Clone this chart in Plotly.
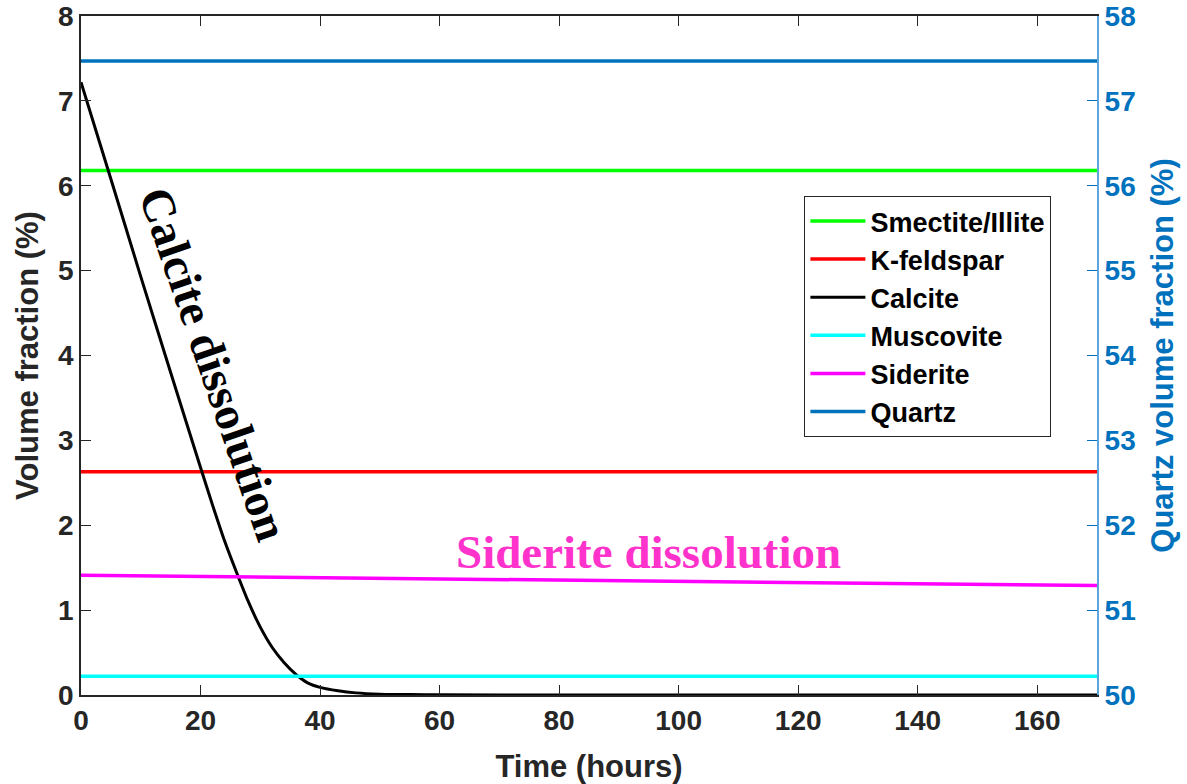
import plotly.graph_objects as go

# Data
time_flat = [0, 170]
smectite = [6.18, 6.18]
kfeldspar = [2.63, 2.63]
muscovite = [0.22, 0.22]
siderite_t = [0, 40, 80, 120, 170]
siderite = [1.41, 1.38, 1.35, 1.32, 1.29]
quartz = [57.47, 57.47]
calcite_t = [0, 5, 10, 15, 20, 22, 24, 26, 28, 30, 32, 34, 36, 38, 40, 43, 46, 50, 55, 60, 80, 120, 170]
calcite = [7.22, 6.08, 4.93, 3.80, 2.68, 2.24, 1.82, 1.45, 1.10, 0.80, 0.56, 0.38, 0.24, 0.14, 0.09,
           0.05, 0.025, 0.01, 0.005, 0.002, 0.0, 0.0, 0.0]
x_ticks = [0, 20, 40, 60, 80, 100, 120, 140, 160]
y_ticks = [0, 1, 2, 3, 4, 5, 6, 7, 8]
y2_ticks = [50, 51, 52, 53, 54, 55, 56, 57, 58]

BLUE = "#0072BD"
AX = "#262626"
FONT = "Liberation Sans, Arial, sans-serif"
SERIF = "Liberation Serif, Times New Roman, serif"

fig = go.Figure()
fig.add_trace(go.Scatter(x=time_flat, y=smectite, mode="lines", name="Smectite/Illite",
                         line=dict(color="#00FF00", width=3.5), legendgroup="a"))
fig.add_trace(go.Scatter(x=time_flat, y=kfeldspar, mode="lines", name="K-feldspar",
                         line=dict(color="#FF0000", width=3.5), legendgroup="b"))
fig.add_trace(go.Scatter(x=calcite_t, y=calcite, mode="lines", name="Calcite",
                         line=dict(color="#000000", width=3, shape="spline", smoothing=0.6), legendgroup="c"))
fig.add_trace(go.Scatter(x=time_flat, y=muscovite, mode="lines", name="Muscovite",
                         line=dict(color="#00FFFF", width=3.5), legendgroup="d"))
fig.add_trace(go.Scatter(x=siderite_t, y=siderite, mode="lines", name="Siderite",
                         line=dict(color="#FF00FF", width=3.5), legendgroup="e"))
fig.add_trace(go.Scatter(x=time_flat, y=quartz, mode="lines", name="Quartz",
                         line=dict(color=BLUE, width=3.5), yaxis="y2", legendgroup="f"))

fig.update_layout(
    width=1187, height=784,
    margin=dict(l=81, r=90, t=16, b=89, autoexpand=False),
    paper_bgcolor="white", plot_bgcolor="white",
    font=dict(family=FONT, size=27, color=AX),
    showlegend=True,
    legend=dict(x=0.712, y=0.735, xanchor="left", yanchor="top",
                bordercolor=AX, borderwidth=1, bgcolor="white",
                font=dict(family=FONT, size=27, color="#000000", weight="bold"),
                itemwidth=55, tracegroupgap=2, traceorder="normal"),
    xaxis=dict(range=[0, 170], tickvals=x_ticks, ticks="inside", ticklen=10, tickcolor=AX,
               showline=True, linecolor=AX, linewidth=1.5, mirror="ticks", showgrid=False, zeroline=False,
               automargin=False,
               tickfont=dict(family=FONT, size=28, color=AX, weight="bold"),
               title=dict(text="Time (hours)", font=dict(family=FONT, size=31, color=AX, weight="bold"),
                          standoff=22)),
    yaxis=dict(range=[0, 8], tickvals=y_ticks, ticks="inside", ticklen=10, tickcolor=AX,
               showline=True, linecolor=AX, linewidth=1.5, showgrid=False, zeroline=False,
               automargin=False,
               tickfont=dict(family=FONT, size=28, color=AX, weight="bold"),
               title=dict(text="Volume fraction (%)", font=dict(family=FONT, size=31, color=AX, weight="bold"),
                          standoff=10)),
    yaxis2=dict(range=[50, 58], tickvals=y2_ticks, overlaying="y", side="right", ticks="inside",
                ticklen=10, tickcolor=BLUE, showline=True, linecolor="#5DA5DA", linewidth=2,
                showgrid=False, zeroline=False, automargin=False,
                tickfont=dict(family=FONT, size=28, color=BLUE, weight="bold"),
                title=dict(text="Quartz volume fraction (%)", font=dict(family=FONT, size=31, color=BLUE, weight="bold"),
                           standoff=16)),
    annotations=[
        dict(x=22.2, y=3.9, xref="x", yref="y", text="<b>Calcite dissolution</b>", showarrow=False,
             textangle=71, font=dict(family=SERIF, size=47, color="#000000")),
        dict(x=95.0, y=1.68, xref="x", yref="y", text="<b>Siderite dissolution</b>", showarrow=False,
             font=dict(family=SERIF, size=47, color="#FF33CC")),
    ],
)

fig.write_html("out.html")
